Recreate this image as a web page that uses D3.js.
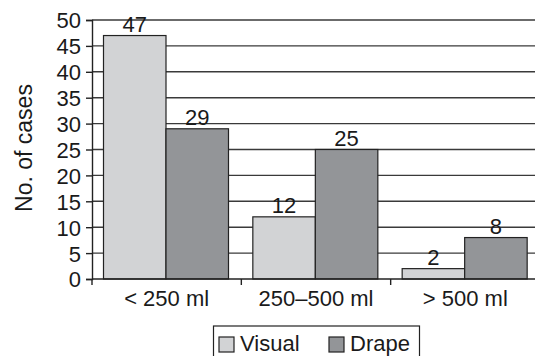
<!DOCTYPE html>
<html lang="en">
<head>
    <meta charset="UTF-8">
    <title>No. of cases by blood loss</title>
    <script src="https://d3js.org/d3.v7.min.js"></script>
    <style>
        body, html {
            margin: 0;
            padding: 0;
            width: 100%;
            height: 100%;
            overflow: hidden;
            background: #fff;
        }
        text {
            font-family: "Liberation Sans", Arial, sans-serif;
            fill: #1a1a1a;
        }
    </style>
</head>
<body>
    <div id="chart"></div>
    <script>
        // data
        var categories = ["< 250 ml", "250\u2013500 ml", "> 500 ml"];
        var seriesNames = ["Visual", "Drape"];
        var visual = [47, 12, 2];
        var drape = [29, 25, 8];
        var yTicks = [0, 5, 10, 15, 20, 25, 30, 35, 40, 45, 50];

        var colors = {Visual: "#d2d3d5", Drape: "#939598"};
        var values = {Visual: visual, Drape: drape};

        var W = 535, H = 356;
        var plotLeft = 92, plotRight = 540, plotTop = 20, plotBottom = 279;
        var fontSize = 22;

        var svg = d3.select("#chart").append("svg")
            .attr("width", W)
            .attr("height", H);

        var x0 = d3.scaleBand()
            .domain(categories)
            .range([plotLeft, plotRight])
            .paddingInner(0)
            .paddingOuter(0);

        var x1 = d3.scaleBand()
            .domain(seriesNames)
            .range([11.5, 136.5]);

        var y = d3.scaleLinear()
            .domain([0, 50])
            .range([plotBottom, plotTop]);

        // gridlines
        svg.append("g")
            .selectAll("line")
            .data(yTicks.filter(d => d > 0))
            .enter().append("line")
            .attr("x1", plotLeft)
            .attr("x2", W)
            .attr("y1", d => y(d))
            .attr("y2", d => y(d))
            .attr("stroke", "#3a3a3a")
            .attr("stroke-width", 1.4);

        // bars
        var groups = svg.append("g")
            .selectAll("g")
            .data(categories)
            .enter().append("g")
            .attr("transform", d => "translate(" + x0(d) + ",0)");

        groups.selectAll("rect")
            .data((c, i) => seriesNames.map(s => ({s: s, v: values[s][i]})))
            .enter().append("rect")
            .attr("x", d => x1(d.s))
            .attr("y", d => y(d.v))
            .attr("width", x1.bandwidth())
            .attr("height", d => plotBottom - y(d.v))
            .attr("fill", d => colors[d.s])
            .attr("stroke", "#222")
            .attr("stroke-width", 1.2);

        groups.selectAll("text.val")
            .data((c, i) => seriesNames.map(s => ({s: s, v: values[s][i]})))
            .enter().append("text")
            .attr("class", "val")
            .attr("x", d => x1(d.s) + x1.bandwidth() / 2)
            .attr("y", d => y(d.v) - 4)
            .attr("text-anchor", "middle")
            .attr("font-size", fontSize)
            .text(d => d.v);

        // y axis
        var yAxis = svg.append("g")
            .attr("transform", "translate(" + plotLeft + ",0)")
            .call(d3.axisLeft(y).tickValues(yTicks).tickSize(6).tickPadding(5));
        yAxis.select(".domain").attr("stroke", "#222").attr("stroke-width", 1.4);
        yAxis.selectAll(".tick line").attr("stroke", "#222").attr("stroke-width", 1.4);
        yAxis.selectAll(".tick text")
            .attr("font-size", fontSize)
            .attr("font-family", "Liberation Sans, Arial, sans-serif")
            .attr("fill", "#1a1a1a")
            .attr("dy", "0.36em");

        // x axis
        svg.append("line")
            .attr("x1", plotLeft).attr("x2", W)
            .attr("y1", plotBottom).attr("y2", plotBottom)
            .attr("stroke", "#222").attr("stroke-width", 1.4);

        svg.append("g")
            .selectAll("line")
            .data(categories)
            .enter().append("line")
            .attr("x1", d => x0(d))
            .attr("x2", d => x0(d))
            .attr("y1", plotBottom)
            .attr("y2", plotBottom + 6)
            .attr("stroke", "#222")
            .attr("stroke-width", 1.4);

        svg.append("g")
            .selectAll("text")
            .data(categories)
            .enter().append("text")
            .attr("x", d => x0(d) + x0.bandwidth() / 2)
            .attr("y", 306)
            .attr("text-anchor", "middle")
            .attr("font-size", fontSize)
            .text(d => d);

        // y title
        svg.append("text")
            .attr("transform", "translate(32,148) rotate(-90)")
            .attr("text-anchor", "middle")
            .attr("font-size", 23)
            .text("No. of cases");

        // legend
        var legend = svg.append("g");
        legend.append("rect")
            .attr("x", 213.5).attr("y", 326)
            .attr("width", 206).attr("height", 34)
            .attr("fill", "#fff")
            .attr("stroke", "#222")
            .attr("stroke-width", 1.2);

        var legendX = {Visual: 219, Drape: 329};
        seriesNames.forEach(function(s) {
            legend.append("rect")
                .attr("x", legendX[s]).attr("y", 337)
                .attr("width", 15).attr("height", 15)
                .attr("fill", colors[s])
                .attr("stroke", "#222")
                .attr("stroke-width", 1.2);
            legend.append("text")
                .attr("x", legendX[s] + 21)
                .attr("y", 351)
                .attr("font-size", fontSize)
                .text(s);
        });
    </script>
</body>
</html>
